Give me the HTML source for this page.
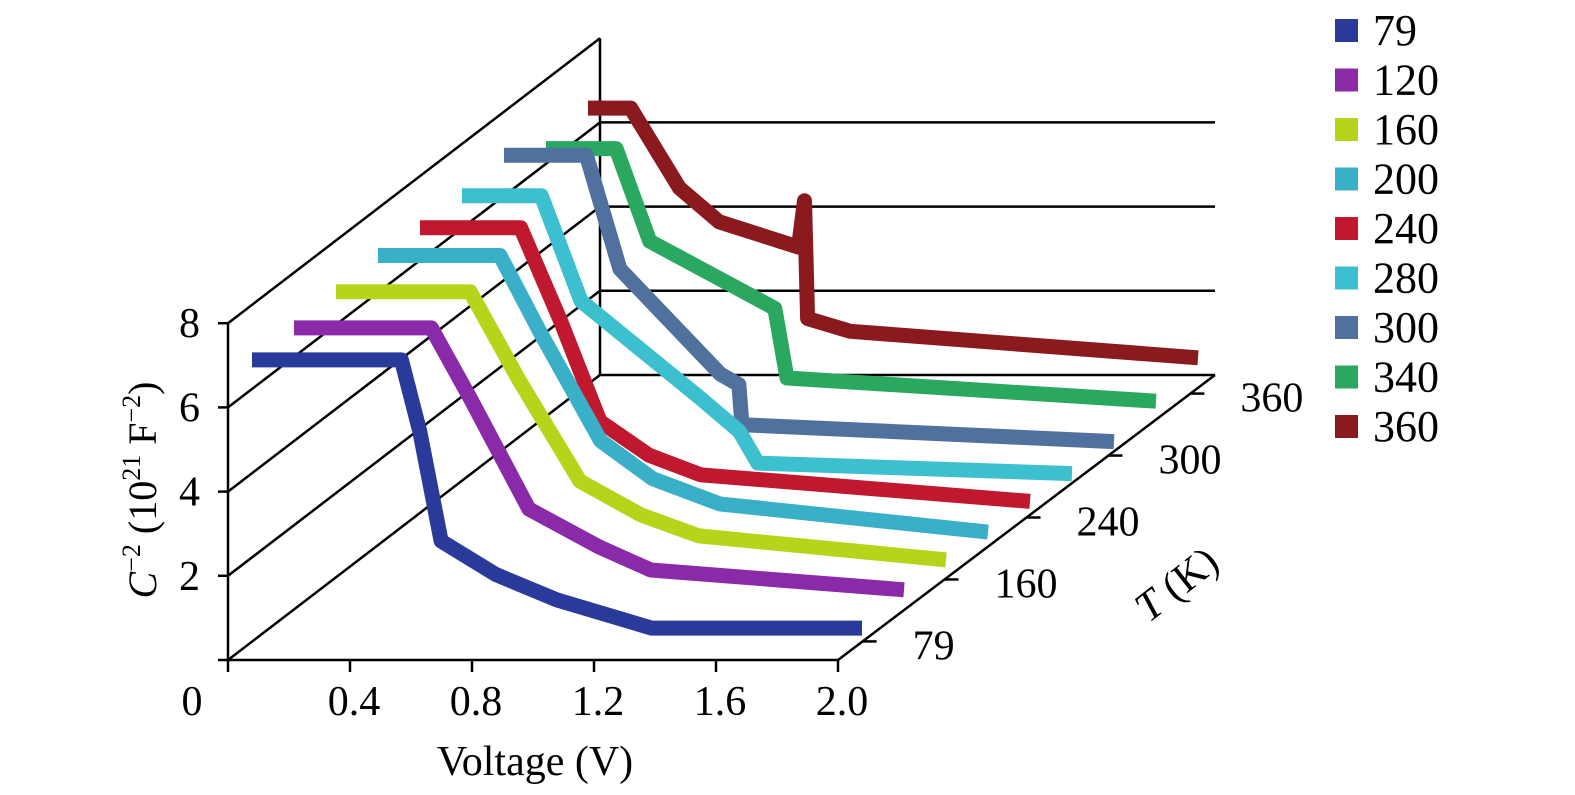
<!DOCTYPE html>
<html><head><meta charset="utf-8"><style>
html,body{margin:0;padding:0;background:#fff;}
svg{display:block;font-family:"Liberation Serif",serif;}
</style></head><body>
<svg id="chart" width="1575" height="795" viewBox="0 0 1575 795">
<g id="axes"></g>
<g id="series"></g>
<g id="legend"></g>
<text x="0" y="0" transform="translate(156,490) rotate(-90)" text-anchor="middle" font-size="40"><tspan font-style="italic">C</tspan><tspan font-size="26" dy="-16">−2</tspan><tspan dy="16"> (10</tspan><tspan font-size="26" dy="-16">21</tspan><tspan dy="16"> F</tspan><tspan font-size="26" dy="-16">−2</tspan><tspan dy="16">)</tspan></text>
<text x="535" y="775" text-anchor="middle" font-size="42">Voltage (V)</text>
<text x="0" y="0" transform="translate(1185,595) rotate(-38)" text-anchor="middle" font-size="42"><tspan font-style="italic">T</tspan> (K)</text>
</svg>
<script>
const seriesNames=["79","120","160","200","240","280","300","340","360"];
const colors=["#2a3a9a","#8a2aa8","#b8d41a","#3ab0c8","#c0182e","#3cc0d0","#50709e","#2aa860","#8a1a1e"];
const sV=[
[0,0.49,0.55,0.62,0.8,1.0,1.31,2.0],
[0,0.45,0.58,0.77,1.0,1.17,2.0],
[0,0.44,0.6,0.8,1.0,1.19,2.0],
[0,0.4,0.53,0.73,0.9,1.12,2.0],
[0,0.33,0.46,0.59,0.75,0.92,2.0],
[0,0.26,0.39,0.78,0.91,0.97,2.0],
[0,0.27,0.38,0.71,0.77,0.78,2.0],
[0,0.23,0.34,0.7,0.75,0.79,2.0],
[0,0.14,0.3,0.43,0.69,0.71,0.72,0.86,2.0]];
const sY=[
[6.7,6.7,5.0,2.4,1.6,1.0,0.33,0.33],
[6.7,6.7,5.0,2.4,1.5,0.95,0.48],
[6.8,6.8,4.7,2.3,1.5,1.0,0.43],
[6.9,6.9,5.1,2.5,1.6,1.0,0.33],
[6.8,6.8,4.6,2.2,1.4,0.93,0.3],
[6.8,6.8,4.3,2.0,1.2,0.45,0.2],
[7.0,7.0,4.3,1.8,1.55,0.6,0.2],
[6.4,6.4,4.2,2.8,2.6,0.95,0.4],
[6.6,6.6,4.7,3.9,3.3,4.4,1.6,1.3,0.67]];
const xTicks=[0,0.4,0.8,1.2,1.6,2.0];
const xTickLabels=["0","0.4","0.8","1.2","1.6","2.0"];
const yTicks=[0,2,4,6,8];
const yTickLabels=["","2","4","6","8"];
const tTickIdx=[0,2,4,6,8];
const tTickLabels=["79","160","240","300","360"];

const NS="http://www.w3.org/2000/svg";
const X0=228,Y0=660,XPX=305,YPX=42.1,DX=372,DY=-285;
function sx(v){return X0+v*XPX;}
function sy(c){return Y0-c*YPX;}
function off(i){return [24+42*i,-18-32*i];}
function mk(parent,tag,attrs){const e=document.createElementNS(NS,tag);for(const k in attrs)e.setAttribute(k,attrs[k]);parent.appendChild(e);return e;}
const axes=document.getElementById('axes');
const st={stroke:"#000","stroke-width":2.5,fill:"none"};
function line(x1,y1,x2,y2,name){const l=mk(axes,'line',Object.assign({x1,y1,x2,y2},st));}
line(X0,sy(0),X0,sy(8),'y-axis-line');
line(X0,Y0,sx(2),Y0,'x-axis-line');
line(sx(2),Y0,sx(2)+DX+5,Y0+DY,'t-axis-line');
line(X0+DX,sy(8)+DY,X0+DX,Y0+DY,'back-wall-left-edge');
yTicks.forEach((t,k)=>{
  line(X0,sy(t),X0+DX,sy(t)+DY,'wall-gridline');
  if(t<8) line(X0+DX,sy(t)+DY,sx(2)+DX+5,sy(t)+DY,'back-gridline');
  line(X0-10,sy(t),X0,sy(t),'y-tick');
  if(yTickLabels[k]){const tx=mk(axes,'text',{x:200,y:sy(t)+14,"text-anchor":"end","font-size":42});tx.textContent=yTickLabels[k];
  }
});
xTicks.forEach((t,k)=>{
  line(sx(t),Y0,sx(t),Y0+12,'x-tick');
  const tx=mk(axes,'text',{x:k==0?192:sx(t)+4,y:715,"text-anchor":"middle","font-size":42});tx.textContent=xTickLabels[k];
  
});
tTickIdx.forEach((idx,k)=>{
  const f=(idx+0.6)/9.2;const bx=sx(2)+DX*f+5*f,by=Y0+DY*f;
  line(bx,by,bx+14,by,'t-tick');
  const tx=mk(axes,'text',{x:bx+50,y:by+18,"font-size":42});tx.textContent=tTickLabels[k];
  
});
const sg=document.getElementById('series');
for(let i=seriesNames.length-1;i>=0;i--){
  const [ox,oy]=off(i);
  const pts=sV[i].map((v,j)=>(sx(v)+ox).toFixed(1)+","+(sy(sY[i][j])+oy).toFixed(1)).join(" ");
  const p=mk(sg,'polyline',{points:pts,fill:"none",stroke:colors[i],"stroke-width":15,"stroke-linejoin":"round","stroke-linecap":"butt"});
  
  
}
const lg=document.getElementById('legend');
seriesNames.forEach((n,i)=>{
  const y=30+i*49.5;
  const r=mk(lg,'rect',{x:1335,y:y-11,width:23,height:23,fill:colors[i]});
  
  const t=mk(lg,'text',{x:1373,y:y+15,"font-size":44});t.textContent=n;
  
});
</script>
</body></html>
